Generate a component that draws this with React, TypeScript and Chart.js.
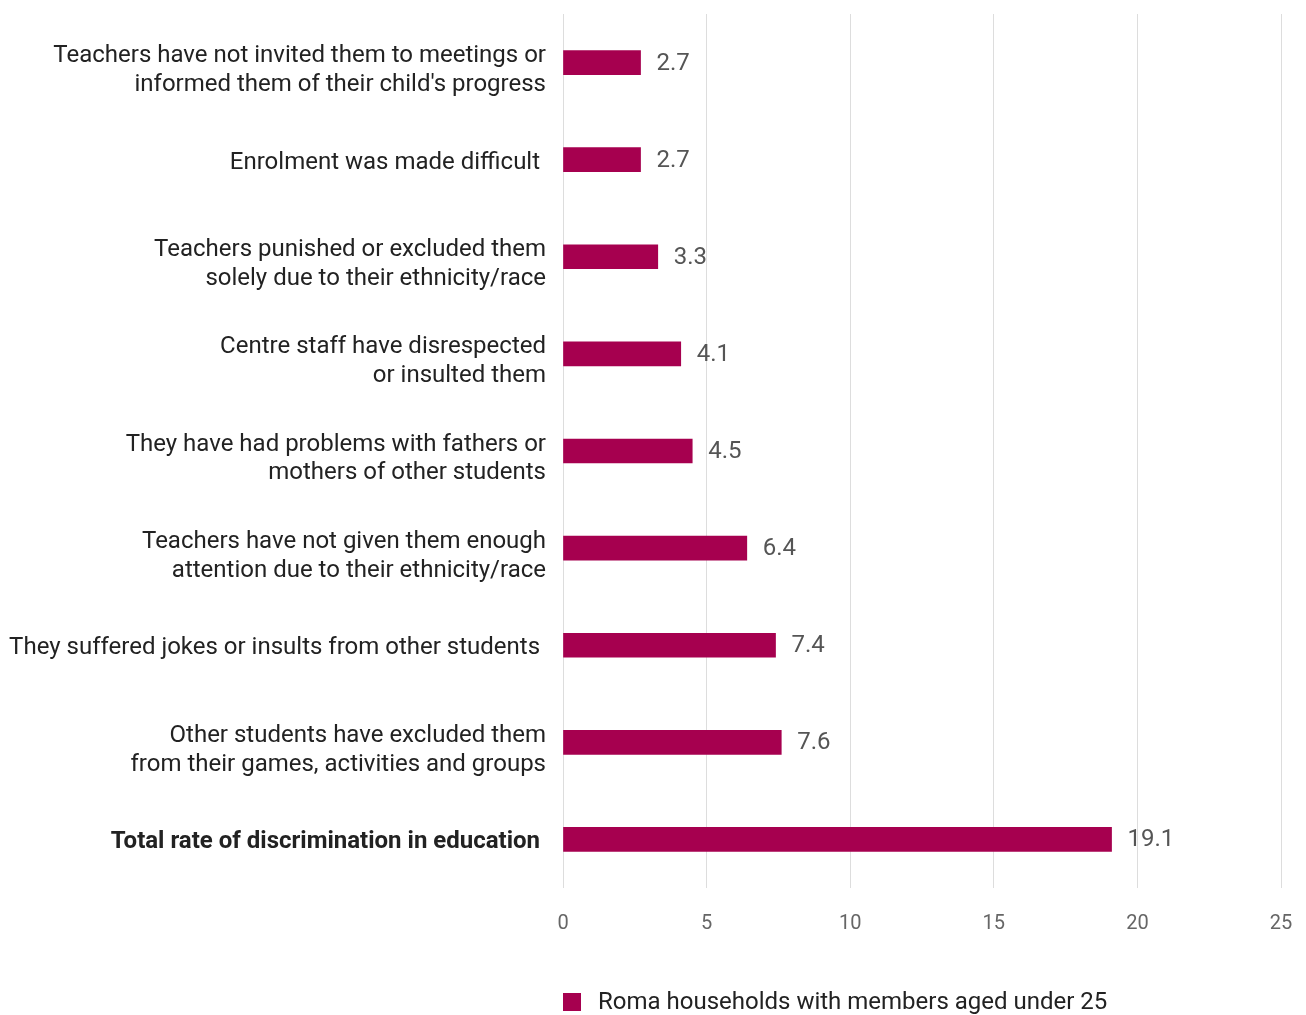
import React, { useEffect, useRef } from "react";
import { Chart, registerables } from "chart.js";

Chart.register(...registerables);

const categories: (string | string[])[] = [
  ["Teachers have not invited them to meetings or", "informed them of their child's progress"],
  "Enrolment was made difficult ",
  ["Teachers punished or excluded them", "solely due to their ethnicity/race"],
  ["Centre staff have disrespected", "or insulted them"],
  ["They have had problems with fathers or", "mothers of other students"],
  ["Teachers have not given them enough", "attention due to their ethnicity/race"],
  "They suffered jokes or insults from other students ",
  ["Other students have excluded them", "from their games, activities and groups"],
  "Total rate of discrimination in education ",
];

const values: number[] = [2.7, 2.7, 3.3, 4.1, 4.5, 6.4, 7.4, 7.6, 19.1];
const seriesName = "Roma households with members aged under 25";
const xTicks: number[] = [0, 5, 10, 15, 20, 25];

const BAR = "#a6004f";
const FONT = "Roboto, 'Noto Sans', sans-serif";

const valueLabels = {
  id: "valueLabels",
  afterDatasetsDraw(chart: any) {
    const ctx = chart.ctx;
    const meta = chart.getDatasetMeta(0);
    ctx.save();
    ctx.font = `24px ${FONT}`;
    ctx.fillStyle = "#555555";
    ctx.textAlign = "left";
    ctx.textBaseline = "middle";
    meta.data.forEach((el: any, i: number) => {
      ctx.fillText(String(values[i]), el.x + 16, el.y + 1);
    });
    ctx.restore();
  },
};

// nudges the category labels down slightly, as in the reference
const labelNudge = {
  id: "labelNudge",
  beforeDraw(chart: any) {
    const s = chart.scales.y;
    if (!s || !s.getLabelItems) return;
    const items = s.getLabelItems();
    items.forEach((it: any, i: number) => {
      if (it._nudged) return;
      const multi = Array.isArray(categories[i]);
      const t = it.options.translation;
      it.options.translation = [t[0], t[1] + (multi ? 8 : 3)];
      it._nudged = true;
    });
  },
};

const bottomLegend = {
  id: "bottomLegend",
  afterDraw(chart: any) {
    const ctx = chart.ctx;
    const left = chart.chartArea.left;
    const y = chart.chartArea.bottom + 114;
    ctx.save();
    ctx.fillStyle = BAR;
    ctx.fillRect(left, y - 9, 18, 18);
    ctx.font = `24px ${FONT}`;
    ctx.fillStyle = "#222222";
    ctx.textAlign = "left";
    ctx.textBaseline = "middle";
    ctx.fillText(seriesName, left + 35, y + 1);
    ctx.restore();
  },
};

export default function App() {
  const ref = useRef<HTMLCanvasElement | null>(null);
  useEffect(() => {
    document.body.style.margin = "0";
    if (!ref.current) return;
    const chart = new Chart(ref.current, {
      type: "bar",
      data: {
        labels: categories,
        datasets: [
          {
            label: seriesName,
            data: values,
            backgroundColor: BAR,
            borderWidth: 0,
            barThickness: 24,
          },
        ],
      },
      options: {
        indexAxis: "y",
        animation: false,
        responsive: false,
        layout: { padding: { top: 14, right: 25, bottom: 55, left: 0 } },
        plugins: {
          legend: { display: false },
          tooltip: { enabled: false },
        },
        scales: {
          x: {
            min: 0,
            max: 25,
            afterBuildTicks: (s: any) => {
              s.ticks = xTicks.map((v) => ({ value: v }));
            },
            afterFit: (s: any) => {
              s.paddingLeft = 0;
              s.paddingRight = 0;
            },
            grid: { color: "#dddddd", lineWidth: 1, drawTicks: false },
            border: { display: false },
            ticks: {
              color: "#666666",
              padding: 24,
              font: { family: FONT, size: 20 },
            },
          },
          y: {
            afterFit: (s: any) => {
              s.width = 563;
              s.paddingTop = 0;
              s.paddingBottom = 0;
            },
            grid: { display: false, drawTicks: false },
            border: { display: false },
            ticks: {
              color: "#222222",
              padding: 17,
              font: (c: any) => ({
                family: FONT,
                size: 24,
                lineHeight: 1.2,
                weight: c.index === categories.length - 1 ? "bold" : "normal",
              }),
            },
          },
        },
      },
      plugins: [labelNudge, valueLabels, bottomLegend],
    });
    return () => chart.destroy();
  }, []);
  return <canvas ref={ref} width={1306} height={1015} style={{ display: "block" }} />;
}
